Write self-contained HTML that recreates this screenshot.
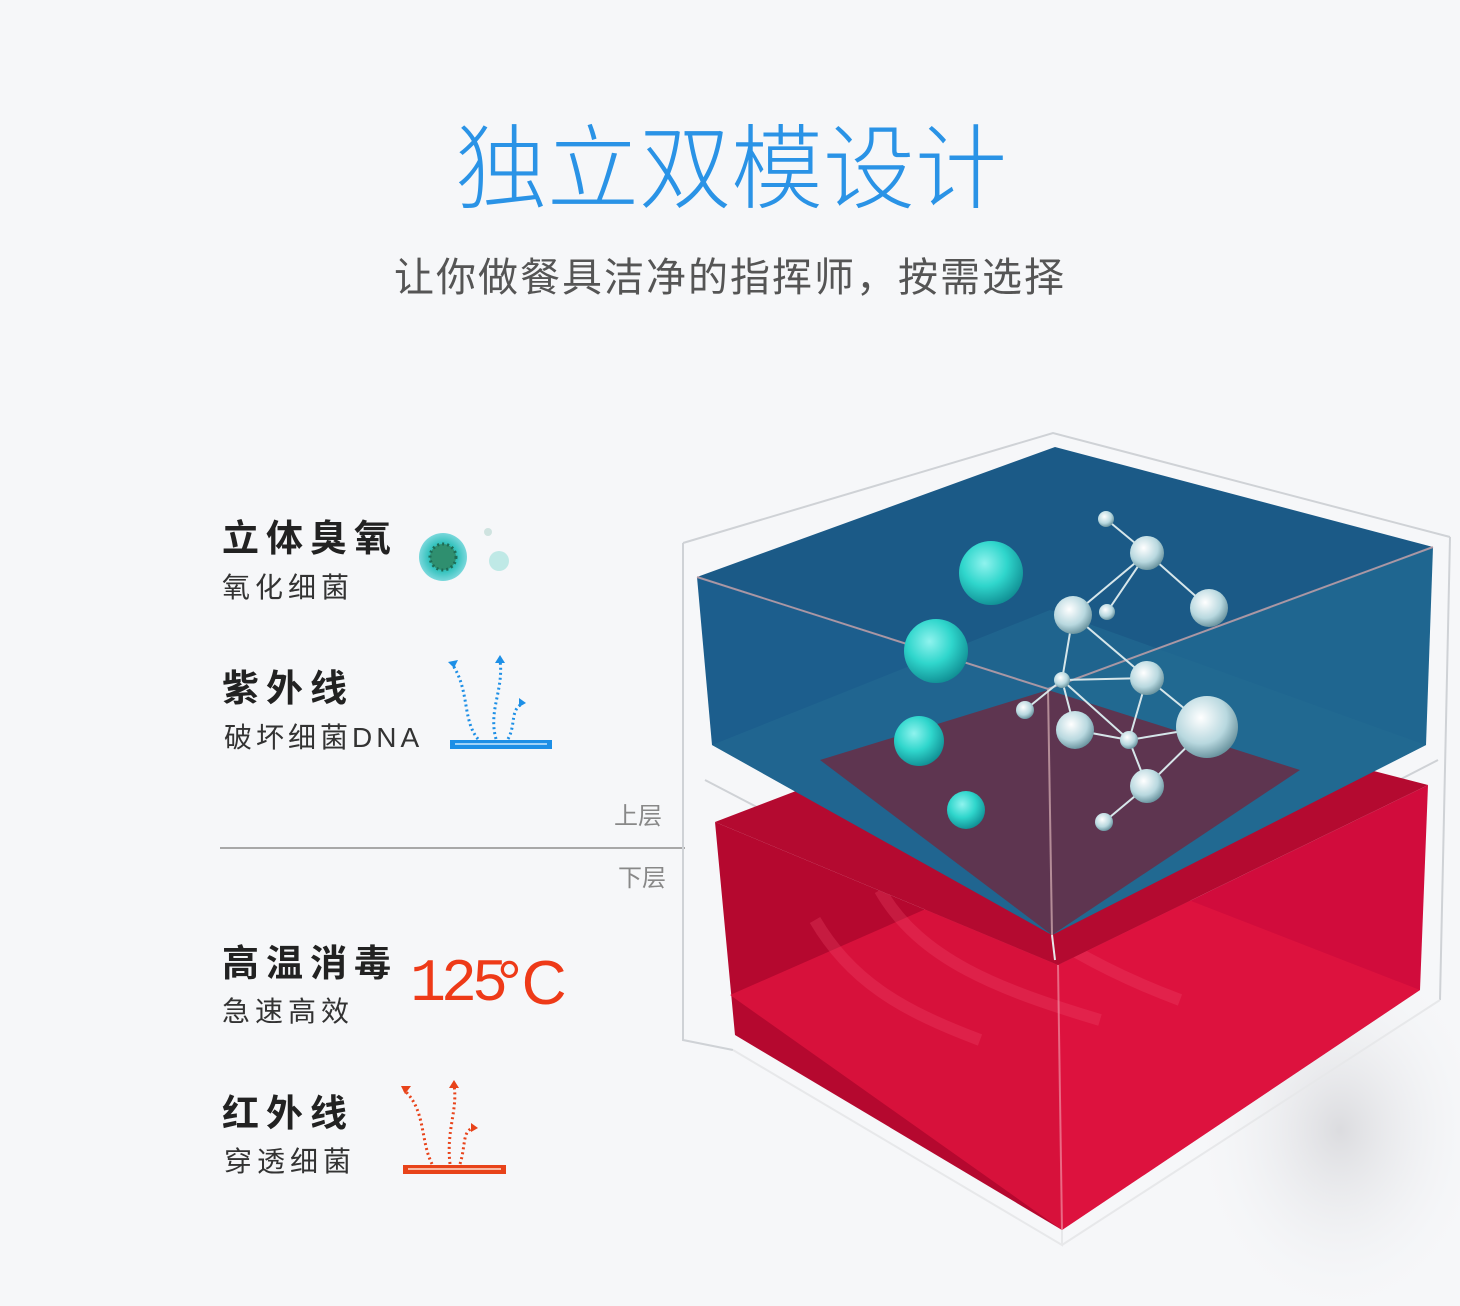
<!DOCTYPE html>
<html><head><meta charset="utf-8"><style>
html,body{margin:0;padding:0;background:#f6f7f9;}
body{width:1460px;height:1306px;position:relative;overflow:hidden;font-family:"Liberation Sans","Noto Sans CJK SC",sans-serif;}
.t{position:absolute;white-space:nowrap;line-height:1;}
</style></head><body>
<div class="t" style="left:455px;top:124px;font-size:92px;color:#2a93e6;font-weight:300;">独立双模设计</div>
<div class="t" style="left:394px;top:258px;font-size:40px;color:#555;letter-spacing:2px;">让你做餐具洁净的指挥师，按需选择</div>

<div class="t" style="left:222px;top:520px;font-size:37px;color:#222;font-weight:bold;letter-spacing:7px;">立体臭氧</div>
<div class="t" style="left:222px;top:574px;font-size:28px;color:#333;letter-spacing:5px;">氧化细菌</div>
<div class="t" style="left:222px;top:670px;font-size:37px;color:#222;font-weight:bold;letter-spacing:7px;">紫外线</div>
<div class="t" style="left:224px;top:724px;font-size:28px;color:#333;letter-spacing:4px;">破坏细菌DNA</div>
<div class="t" style="left:614px;top:805px;font-size:24px;color:#888;">上层</div>
<div class="t" style="left:618px;top:867px;font-size:24px;color:#888;">下层</div>
<div class="t" style="left:222px;top:945px;font-size:37px;color:#222;font-weight:bold;letter-spacing:7px;">高温消毒</div>
<div class="t" style="left:222px;top:998px;font-size:28px;color:#333;letter-spacing:5px;">急速高效</div>
<div class="t" style="left:410px;top:955px;font-size:60px;color:#ee3a18;font-family:'Liberation Mono',monospace;letter-spacing:-5px;">125</div>
<div class="t" style="left:497px;top:953px;font-size:62px;color:#ee3a18;font-weight:300;">°C</div>
<div class="t" style="left:222px;top:1095px;font-size:37px;color:#222;font-weight:bold;letter-spacing:7px;">红外线</div>
<div class="t" style="left:224px;top:1148px;font-size:28px;color:#333;letter-spacing:5px;">穿透细菌</div>

<svg width="1460" height="1306" style="position:absolute;left:0;top:0" xmlns="http://www.w3.org/2000/svg">
<defs>
<radialGradient id="tg" cx="0.4" cy="0.35" r="0.7"><stop offset="0" stop-color="#8ff3ee"/><stop offset="0.5" stop-color="#2fd6cc"/><stop offset="1" stop-color="#0e8a90"/></radialGradient>
<radialGradient id="sg" cx="0.4" cy="0.35" r="0.7"><stop offset="0" stop-color="#ffffff"/><stop offset="0.6" stop-color="#b8d8df"/><stop offset="1" stop-color="#5f8a96"/></radialGradient>
<radialGradient id="vg" cx="0.5" cy="0.5" r="0.5"><stop offset="0" stop-color="#2a8f7a"/><stop offset="0.6" stop-color="#34c2bd"/><stop offset="1" stop-color="#7ad8dc"/></radialGradient>
<radialGradient id="sh" cx="0.5" cy="0.5" r="0.5"><stop offset="0" stop-color="#d0d0d4" stop-opacity="0.7"/><stop offset="1" stop-color="#f6f7f9" stop-opacity="0"/></radialGradient>
</defs>
<line x1="220" y1="848" x2="685" y2="848" stroke="#a8a8a8" stroke-width="2"/>
<circle cx="443" cy="557" r="24" fill="url(#vg)"/>
<circle cx="443" cy="557" r="13" fill="#2f8f6f" stroke="#1e6b55" stroke-width="3" stroke-dasharray="2 3"/>
<circle cx="499" cy="561" r="10" fill="#bfe9e6"/>
<circle cx="488" cy="532" r="4" fill="#cfe3e0"/>
<rect x="450" y="740" width="102" height="9" fill="#1d8fe6"/>
<rect x="455" y="743" width="92" height="2" fill="#9fd2f8"/>
<g fill="none" stroke="#1d8fe6" stroke-width="3" stroke-dasharray="2 3">
<path d="M478 739 C462 720 470 690 452 664"/><path d="M496 739 C488 710 504 690 500 660"/><path d="M508 739 C516 725 510 710 522 704"/></g>
<g fill="#1d8fe6"><path d="M448 662 l10 -2 -4 8z"/><path d="M500 655 l5 8 -10 0z"/><path d="M526 703 l-7 -5 0 9z"/></g>
<rect x="403" y="1165" width="103" height="9" fill="#e8431a"/>
<rect x="408" y="1168" width="93" height="2" fill="#f8b9a3"/>
<g fill="none" stroke="#e8431a" stroke-width="3" stroke-dasharray="2 3">
<path d="M432 1164 C420 1140 426 1110 404 1090"/><path d="M450 1164 C446 1130 458 1110 454 1085"/><path d="M460 1164 C466 1145 462 1130 474 1128"/></g>
<g fill="#e8431a"><path d="M401 1086 l10 0 -6 8z"/><path d="M454 1080 l5 8 -10 0z"/><path d="M478 1128 l-7 -5 0 9z"/></g>

<ellipse cx="1340" cy="1130" rx="150" ry="190" fill="url(#sh)"/>
<g fill="none" stroke="#cfd2d6" stroke-width="2">
<path d="M683 543 L1053 433 L1450 537"/>
<path d="M683 543 L683 1040 L733 1050"/>
<path d="M1450 537 L1440 1000"/>
<path d="M705 780 L1050 960 L1438 760"/>
</g>
<polygon points="715,822 1058,965 1062,1230 735,1035" fill="#b5082f"/>
<polygon points="1058,965 1428,785 1420,990 1062,1230" fill="#d10c3c"/>
<polygon points="730,995 1060,850 1420,990 1062,1230" fill="#e0143f" opacity="0.8"/>
<path d="M815 920 C850 980 900 1010 980 1040 M880 890 C920 960 1000 990 1100 1020 M980 880 C1030 930 1100 970 1180 1000" stroke="#f04a6a" stroke-width="12" fill="none" opacity="0.3"/>
<polygon points="715,822 1060,690 1428,785 1058,965" fill="#b40a30"/>
<polygon points="697,577 1048,689 1052,935 712,745" fill="#1c5e8d"/>
<polygon points="1048,689 1433,547 1426,745 1052,935" fill="#1f6690"/>
<polygon points="697,577 1055,447 1433,547 1048,689" fill="#1b5a87"/>
<polygon points="712,745 1050,610 1426,745 1052,935" fill="#236a93" opacity="0.6"/>
<polygon points="820,760 1048,690 1300,770 1052,935" fill="#5e3550"/>
<g fill="none" stroke="#c9a3a9" stroke-width="2" opacity="0.8">
<path d="M697 577 L1048 689 L1433 547"/><path d="M1048 689 L1052 935"/></g>
<g fill="none" stroke="#e7e8ea" stroke-width="2">
<path d="M1052 935 L1055 960"/><path d="M1062 1230 L1062 1245 L733 1050"/><path d="M1062 1245 L1440 1000"/>
<path d="M1058 965 L1062 1230" stroke="#f3a0b0" opacity="0.6"/>
</g>
<g stroke="#d6e6ea" stroke-width="2" fill="none">
<path d="M1106 519L1147 553M1147 553L1209 608M1147 553L1073 615M1147 553L1107 612M1073 615L1062 680M1073 615L1147 678M1062 680L1147 678M1062 680L1025 710M1062 680L1075 730M1062 680L1129 740M1075 730L1129 740M1129 740L1207 727M1147 678L1207 727M1147 678L1129 740M1129 740L1147 786M1147 786L1207 727M1147 786L1104 822"/>
</g>
<g fill="url(#sg)">
<circle cx="1106" cy="519" r="8"/><circle cx="1147" cy="553" r="17"/><circle cx="1209" cy="608" r="19"/><circle cx="1073" cy="615" r="19"/><circle cx="1107" cy="612" r="8"/><circle cx="1062" cy="680" r="8"/><circle cx="1147" cy="678" r="17"/><circle cx="1025" cy="710" r="9"/><circle cx="1075" cy="730" r="19"/><circle cx="1129" cy="740" r="9"/><circle cx="1207" cy="727" r="31"/><circle cx="1147" cy="786" r="17"/><circle cx="1104" cy="822" r="9"/>
</g>
<g fill="url(#tg)">
<circle cx="991" cy="573" r="32"/><circle cx="936" cy="651" r="32"/><circle cx="919" cy="741" r="25"/><circle cx="966" cy="810" r="19"/>
</g>
</svg>
</body></html>
